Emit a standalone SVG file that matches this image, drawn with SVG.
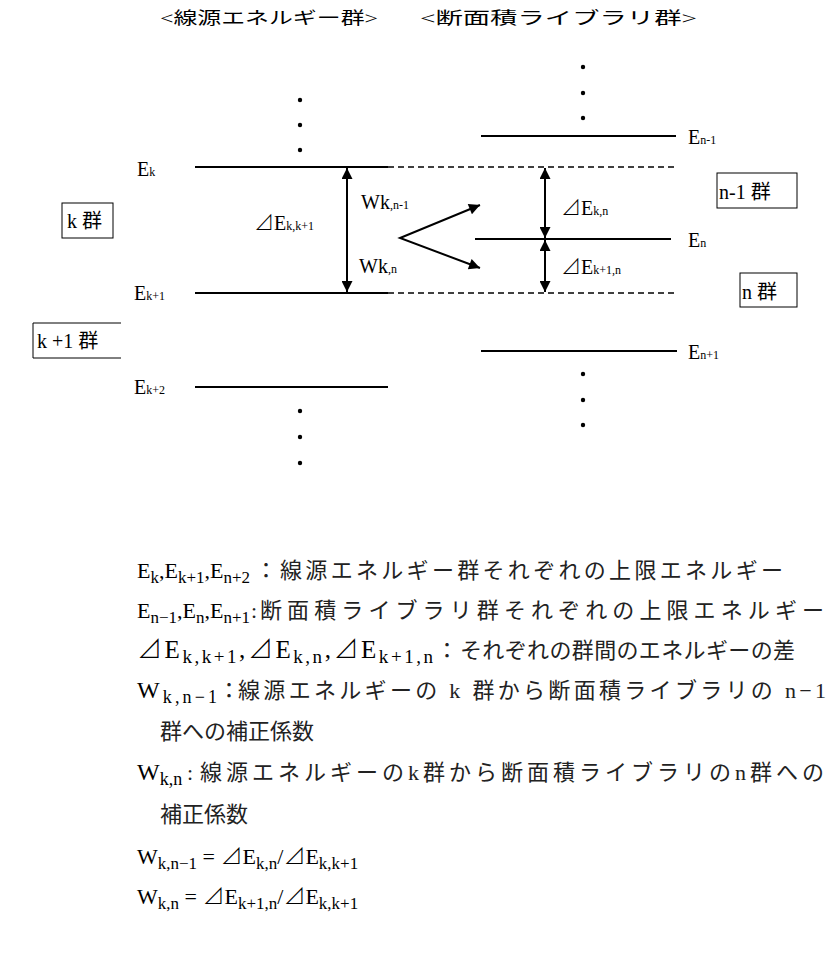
<svg xmlns="http://www.w3.org/2000/svg" width="826" height="967" viewBox="0 0 826 967">
<defs>
<marker id="ah2" viewBox="0 0 10 10" refX="10" refY="5" markerWidth="13" markerHeight="11" markerUnits="userSpaceOnUse" orient="auto-start-reverse">
<path d="M0,0 L10,5 L0,10 Z" fill="#000"/>
</marker>
<style>
text{font-family:"Liberation Serif","Noto Sans CJK JP",serif;fill:#000}
.hd{font-size:17px}
.lb{font-size:20px}
.sb{font-size:12px}
.bt{font-size:22px}
.bs{font-size:17px}
.bt3{font-size:25px}
.bs3{font-size:19px}
.bt4{font-size:24px}
.bs4{font-size:18px}
.tri{font-family:"Noto Sans CJK JP",sans-serif;font-weight:300}
.cj{font-size:22px;fill:#222}
.lvl{stroke:#000;stroke-width:2;fill:none}
.dsh{stroke:#000;stroke-width:1.6;stroke-dasharray:6,4;fill:none}
.dot{fill:#000}
.box{fill:none;stroke:#000;stroke-width:1}
.arr{stroke:#000;stroke-width:2;fill:none}
</style>
</defs>

<g id="headers">
<text class="hd" x="160" y="24" textLength="218" lengthAdjust="spacingAndGlyphs">&lt;線源エネルギー群&gt;</text>
<text class="hd" x="420" y="24" textLength="277" lengthAdjust="spacingAndGlyphs">&lt;断面積ライブラリ群&gt;</text>
</g>

<g id="left-levels">
<circle class="dot" cx="300" cy="100" r="2.2"/>
<circle class="dot" cx="300" cy="125" r="2.2"/>
<circle class="dot" cx="300" cy="150" r="2.2"/>
<line class="lvl" x1="195" y1="167" x2="388" y2="167"/>
<line class="lvl" x1="195" y1="293" x2="388" y2="293"/>
<line class="lvl" x1="195" y1="387" x2="388" y2="387"/>
<circle class="dot" cx="300" cy="411" r="2.2"/>
<circle class="dot" cx="300" cy="437" r="2.2"/>
<circle class="dot" cx="300" cy="463" r="2.2"/>
<text class="lb" x="137" y="176">E<tspan class="sb">k</tspan></text>
<text class="lb" x="134" y="300">E<tspan class="sb">k+1</tspan></text>
<text class="lb" x="134" y="394">E<tspan class="sb">k+2</tspan></text>
</g>

<g id="right-levels">
<circle class="dot" cx="583" cy="67" r="2.2"/>
<circle class="dot" cx="583" cy="93" r="2.2"/>
<circle class="dot" cx="583" cy="118" r="2.2"/>
<line class="lvl" x1="481" y1="136" x2="676" y2="136"/>
<line class="dsh" x1="388" y1="167" x2="676" y2="167"/>
<line class="lvl" x1="475" y1="239" x2="671" y2="239"/>
<line class="dsh" x1="388" y1="293" x2="676" y2="293"/>
<line class="lvl" x1="481" y1="351" x2="677" y2="351"/>
<circle class="dot" cx="583" cy="374" r="2.2"/>
<circle class="dot" cx="583" cy="400" r="2.2"/>
<circle class="dot" cx="583" cy="425" r="2.2"/>
<text class="lb" x="688" y="144">E<tspan class="sb">n-1</tspan></text>
<text class="lb" x="688" y="247">E<tspan class="sb">n</tspan></text>
<text class="lb" x="688" y="359">E<tspan class="sb">n+1</tspan></text>
</g>

<g id="group-boxes">
<rect class="box" x="62" y="203" width="51" height="35"/>
<text class="lb" x="67" y="228">k 群</text>
<path class="box" d="M121,323 H33 V358 H121"/>
<text class="lb" x="37" y="348">k +1 群</text>
<rect class="box" x="717" y="173" width="80" height="35"/>
<text class="lb" x="719" y="199">n-1 群</text>
<rect class="box" x="740" y="273" width="57" height="34"/>
<text class="lb" x="742" y="299">n 群</text>
</g>

<g id="connectors">
<line class="arr" x1="347" y1="168" x2="347" y2="292" marker-start="url(#ah2)" marker-end="url(#ah2)"/>
<line class="arr" x1="545" y1="168" x2="545" y2="238" marker-start="url(#ah2)" marker-end="url(#ah2)"/>
<line class="arr" x1="545" y1="240" x2="545" y2="292" marker-start="url(#ah2)" marker-end="url(#ah2)"/>
<polyline class="arr" points="480,205 400,238 480,268" marker-start="url(#ah2)" marker-end="url(#ah2)"/>
</g>

<g id="diagram-labels">
<text class="lb" x="254" y="230"><tspan class="tri">⊿</tspan>E<tspan class="sb">k,k+1</tspan></text>
<text class="lb" x="361" y="209">Wk<tspan class="sb">,n-1</tspan></text>
<text class="lb" x="359" y="273">Wk<tspan class="sb">,n</tspan></text>
<text class="lb" x="561" y="215"><tspan class="tri">⊿</tspan>E<tspan class="sb">k,n</tspan></text>
<text class="lb" x="561" y="274"><tspan class="tri">⊿</tspan>E<tspan class="sb">k+1,n</tspan></text>
</g>

<g id="legend">
<text class="bt" x="137" y="578">E<tspan class="bs" dy="5">k</tspan><tspan dy="-5">,E</tspan><tspan class="bs" dy="5">k+1</tspan><tspan dy="-5">,E</tspan><tspan class="bs" dy="5">n+2</tspan></text>
<text class="cj" x="255" y="578">：</text>
<text class="cj" x="280" y="578" textLength="503" lengthAdjust="spacing">線源エネルギー群それぞれの上限エネルギー</text>

<text class="bt" x="137" y="618">E<tspan class="bs" dy="5">n−1</tspan><tspan dy="-5">,E</tspan><tspan class="bs" dy="5">n</tspan><tspan dy="-5">,E</tspan><tspan class="bs" dy="5">n+1</tspan></text>
<text class="cj" x="251" y="618">:</text>
<text class="cj" x="260" y="618" textLength="564" lengthAdjust="spacing">断面積ライブラリ群それぞれの上限エネルギー</text>

<text class="bt3" x="137" y="658" textLength="296" lengthAdjust="spacing"><tspan class="tri">⊿</tspan>E<tspan class="bs3" dy="5">k,k+1</tspan><tspan dy="-5">,</tspan><tspan class="tri">⊿</tspan>E<tspan class="bs3" dy="5">k,n</tspan><tspan dy="-5">,</tspan><tspan class="tri">⊿</tspan>E<tspan class="bs3" dy="5">k+1,n</tspan></text>
<text class="cj" x="436" y="658">：</text>
<text class="cj" x="460" y="658" textLength="335" lengthAdjust="spacing">それぞれの群間のエネルギーの差</text>

<text class="bt4" x="137" y="698" textLength="80" lengthAdjust="spacing">W<tspan class="bs4" dy="5">k,n−1</tspan></text>
<text class="cj" x="218" y="698">：</text>
<text class="cj" x="238" y="698" textLength="588" lengthAdjust="spacing">線源エネルギーの k 群から断面積ライブラリの n−1</text>
<text class="cj" x="160" y="739">群への補正係数</text>

<text class="bt4" x="137" y="780">W<tspan class="bs4" dy="5">k,n</tspan></text>
<text class="cj" x="187" y="780">:</text>
<text class="cj" x="200" y="780" textLength="624" lengthAdjust="spacing">線源エネルギーのk群から断面積ライブラリのn群への</text>
<text class="cj" x="160" y="822">補正係数</text>

<text class="bt" x="137" y="864">W<tspan class="bs" dy="5">k,n−1</tspan><tspan dy="-5"> = </tspan><tspan class="tri">⊿</tspan>E<tspan class="bs" dy="5">k,n</tspan><tspan dy="-5">/</tspan><tspan class="tri">⊿</tspan>E<tspan class="bs" dy="5">k,k+1</tspan></text>
<text class="bt" x="137" y="904">W<tspan class="bs" dy="5">k,n</tspan><tspan dy="-5"> = </tspan><tspan class="tri">⊿</tspan>E<tspan class="bs" dy="5">k+1,n</tspan><tspan dy="-5">/</tspan><tspan class="tri">⊿</tspan>E<tspan class="bs" dy="5">k,k+1</tspan></text>
</g>
</svg>
